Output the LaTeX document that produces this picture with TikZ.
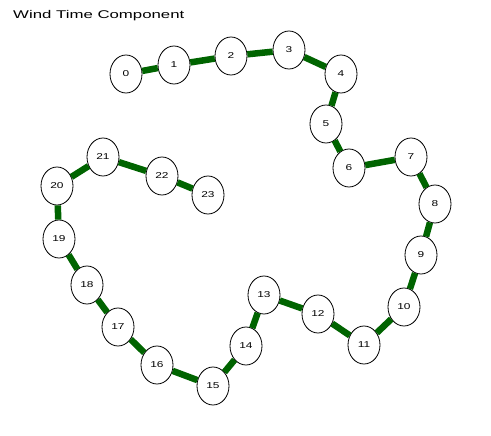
\documentclass[tikz,border=0pt]{standalone}
\usetikzlibrary{shapes.geometric}
\usepackage{fontspec}
\newfontfamily\labelfont{Liberation Sans}[FakeStretch=1.4]
\newfontfamily\titlefont{Liberation Sans}[FakeStretch=1.5]
\begin{document}
\begin{tikzpicture}[x=1pt, y=-1pt]
    % Styles
    \tikzstyle{windnode} = [ellipse, draw, fill=white, line width=0.8pt,
        minimum width=32pt, minimum height=38pt, inner sep=0pt, font=\labelfont\fontsize{8.5}{9}\selectfont]
    \tikzstyle{link} = [line width=6.5pt, draw={rgb,255:red,0;green,100;blue,0}]

    \useasboundingbox (0,0) rectangle (491,436);

    % === Title ===
    \node [anchor=base west, inner sep=0pt, font=\titlefont\fontsize{11.2}{13}\selectfont] (title) at (13,18.5) {Wind Time Component};

    % === Nodes ===
    \node [windnode] (n0) at (126,74) {0};
    \node [windnode] (n1) at (174,65) {1};
    \node [windnode] (n2) at (231,56) {2};
    \node [windnode] (n3) at (289,50) {3};
    \node [windnode] (n4) at (341,74) {4};
    \node [windnode] (n5) at (326,124) {5};
    \node [windnode] (n6) at (349,168) {6};
    \node [windnode] (n7) at (411,157) {7};
    \node [windnode] (n8) at (435,204) {8};
    \node [windnode] (n9) at (421,255) {9};
    \node [windnode] (n10) at (404,307) {10};
    \node [windnode] (n11) at (364,345) {11};
    \node [windnode] (n12) at (318,314) {12};
    \node [windnode] (n13) at (264,295) {13};
    \node [windnode] (n14) at (246,346) {14};
    \node [windnode] (n15) at (213,386) {15};
    \node [windnode] (n16) at (157,365) {16};
    \node [windnode] (n17) at (118,327) {17};
    \node [windnode] (n18) at (87,285) {18};
    \node [windnode] (n19) at (59,239) {19};
    \node [windnode] (n20) at (57,186) {20};
    \node [windnode] (n21) at (103,157) {21};
    \node [windnode] (n22) at (162,176) {22};
    \node [windnode] (n23) at (208,195) {23};

    % === Links ===
    \foreach \a/\b in {0/1,1/2,2/3,3/4,4/5,5/6,6/7,7/8,8/9,9/10,10/11,11/12,
        12/13,13/14,14/15,15/16,16/17,17/18,18/19,19/20,20/21,21/22,22/23}
        \draw [link] (n\a) -- (n\b);
\end{tikzpicture}
\end{document}
